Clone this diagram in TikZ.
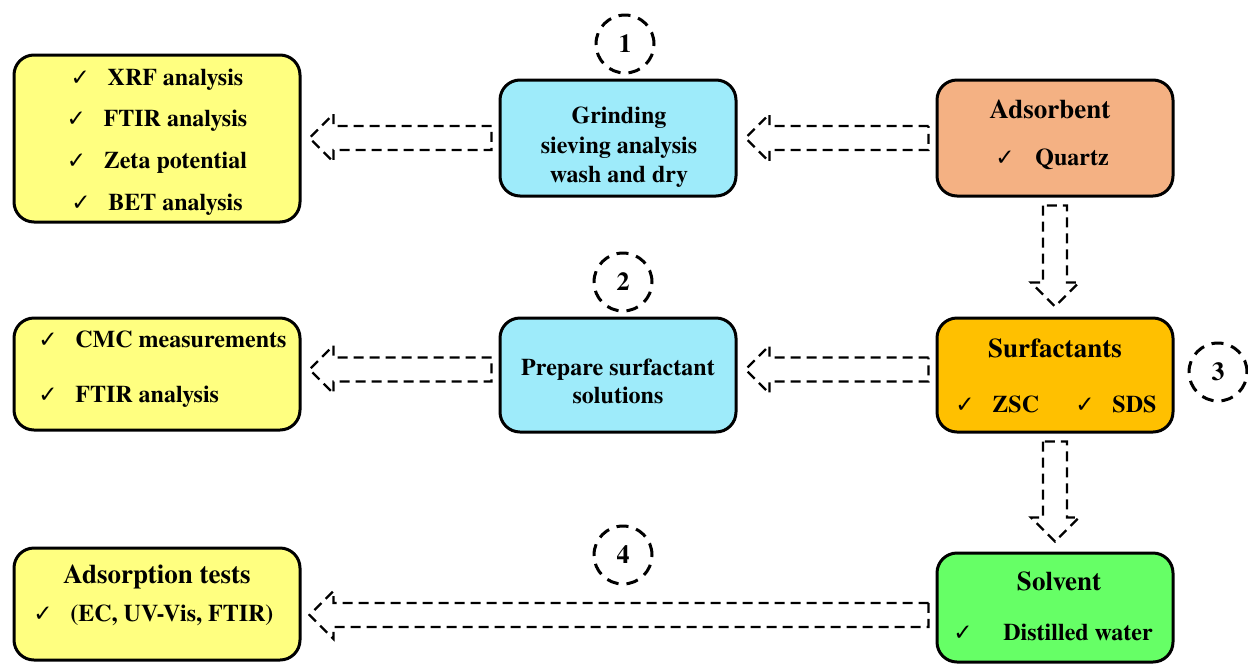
\documentclass[tikz,border=0pt]{standalone}
\usepackage{fontspec}
\setmainfont{texgyretermes}[Extension=.otf, UprightFont=*-regular, BoldFont=*-bold, ItalicFont=*-italic, BoldItalicFont=*-bolditalic]
\newfontfamily\checkfont{DejaVu Sans}
\usetikzlibrary{calc}
\definecolor{ylw}{HTML}{FFFF80}
\definecolor{cyanbox}{HTML}{9EEBFA}
\definecolor{peach}{HTML}{F4B183}
\definecolor{gold}{HTML}{FFC000}
\definecolor{grn}{HTML}{66FF66}
\newcommand\ck[1][18.5pt]{\makebox[#1][l]{\checkfont\fontsize{11.5}{11.5}\selectfont ✓}}
\newcommand\harrow[3]{%
  \draw[hollow] ($(#1.west)+(-7,#3-12)$) -- ($(#2.east |- #1.west)+(32,#3-12)$)
    -- ($(#2.east |- #1.west)+(32,#3-24)$) -- ($(#2.east |- #1.west)+(8,#3)$)
    -- ($(#2.east |- #1.west)+(32,#3+24)$) -- ($(#2.east |- #1.west)+(32,#3+12)$)
    -- ($(#1.west)+(-7,#3+12)$) -- cycle;}
\newcommand\varrow[2]{%
  \draw[hollow] ($(#1.south)+(-12,8)$) -- ($(#2.north)+(-12,-34)$)
    -- ($(#2.north)+(-24,-34)$) -- ($(#2.north)+(0,-10)$)
    -- ($(#2.north)+(24,-34)$) -- ($(#2.north)+(12,-34)$)
    -- ($(#1.south)+(12,8)$) -- cycle;}
\begin{document}
\begin{tikzpicture}[x=0.5pt, y=-0.5pt,
  box/.style={draw, line width=1.5pt, rounded corners=10pt, inner sep=0pt, minimum width=118pt, minimum height=57pt},
  lbox/.style={box, fill=ylw, minimum width=143pt, minimum height=56pt},
  txt/.style={font=\bfseries\fontsize{12}{14}\selectfont, inner sep=0pt, anchor=base},
  txtw/.style={txt, anchor=base west},
  ttl/.style={txt, font=\bfseries\fontsize{13.5}{15}\selectfont},
  hollow/.style={draw, dash pattern=on 5pt off 3pt, line width=1.1pt, line join=miter},
  num/.style={circle, draw, line width=1.5pt, dash pattern=on 6pt off 4pt, minimum size=29pt, inner sep=0pt, font=\bfseries\fontsize{13}{13}\selectfont}]
\useasboundingbox (0,0) rectangle (1248,665);

% boxes
\node[lbox, minimum height=83.5pt] (L1) at (157,138.5) {};
\node[lbox] (L2) at (157,374) {};
\node[lbox] (L3) at (157,604) {};
\node[box, fill=cyanbox, minimum height=58pt] (M1) at (618,138) {};
\node[box, fill=cyanbox] (M2) at (618,375) {};
\node[box, fill=peach, minimum height=58pt] (R1) at (1055,138) {};
\node[box, fill=gold] (R2) at (1055,375) {};
\node[box, fill=grn, minimum height=54.5pt] (R3) at (1055,607.5) {};

% texts
\node[txt] (l1a) at (157,85) {\ck XRF analysis};
\node[txt] (l1b) at (157,126) {\ck FTIR analysis};
\node[txt] (l1c) at (157,168) {\ck Zeta potential};
\node[txt] (l1d) at (157,210) {\ck BET analysis};
\node[txtw] (l2a) at (38,347) {\ck CMC measurements};
\node[txtw] (l2b) at (38,402) {\ck FTIR analysis};
\node[ttl] (l3a) at (157,583) {Adsorption tests};
\node[txtw] (l3b) at (33,621) {\ck (EC, UV-Vis, FTIR)};
\node[txt] (m1a) at (619,123) {Grinding};
\node[txt] (m1b) at (619,153) {sieving analysis};
\node[txt] (m1c) at (619,182) {wash and dry};
\node[txt] (m2a) at (618,375) {Prepare surfactant};
\node[txt] (m2b) at (618,403) {solutions};
\node[ttl] (r1a) at (1050,118) {Adsorbent};
\node[txt] (r1b) at (1052,165) {\ck[17pt] Quartz};
\node[ttl] (r2a) at (1055,357) {Surfactants};
\node[txtw] (r2b) at (955,412) {\ck ZSC};
\node[txtw] (r2c) at (1075,412) {\ck SDS};
\node[ttl] (r3a) at (1059,590) {Solvent};
\node[txtw] (r3b) at (953,640) {\ck[22pt] Distilled water};

% step numbers
\node[num] (n1) at (625,44) {1};
\node[num] (n2) at (623,282) {2};
\node[num] (n3) at (1218,372) {3};
\node[num] (n4) at (623,555) {4};

% arrows
\harrow{R1}{M1}{0}
\harrow{M1}{L1}{0}
\harrow{R2}{M2}{-5.5}
\harrow{M2}{L2}{-5.5}
\harrow{R3}{L3}{7.5}
\varrow{R1}{R2}
\varrow{R2}{R3}
\end{tikzpicture}
\end{document}
